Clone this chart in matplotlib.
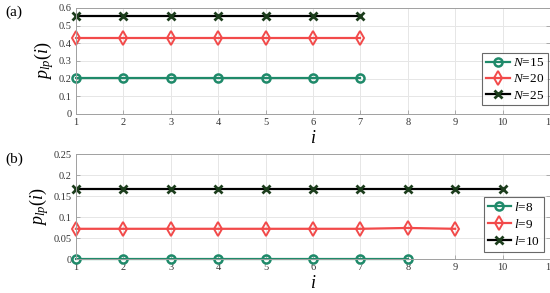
import matplotlib
matplotlib.use("Agg")
import matplotlib.pyplot as plt
import numpy as np

plt.rcParams['font.family'] = ['Liberation Serif', 'DejaVu Serif']
plt.rcParams['mathtext.fontset'] = 'custom'
plt.rcParams['mathtext.rm'] = 'Liberation Serif'
plt.rcParams['mathtext.it'] = 'Liberation Serif:italic'

# Panel (a)
a_labels = ["15", "20", "25"]
a_x = [1, 2, 3, 4, 5, 6, 7]
a_vals = [
    [0.205, 0.205, 0.205, 0.205, 0.205, 0.205, 0.205],
    [0.432, 0.432, 0.432, 0.432, 0.432, 0.432, 0.432],
    [0.556, 0.556, 0.556, 0.556, 0.556, 0.556, 0.556],
]
# Panel (b)
b_labels = ["8", "9", "10"]
b_x = [list(range(1, 9)), list(range(1, 10)), list(range(1, 11))]
b_vals = [
    [0, 0, 0, 0, 0, 0, 0, 0],
    [0.072, 0.072, 0.072, 0.072, 0.072, 0.072, 0.072, 0.074, 0.072],
    [0.166, 0.166, 0.166, 0.166, 0.166, 0.166, 0.166, 0.166, 0.166, 0.166],
]
a_yticks = [0, 0.1, 0.2, 0.3, 0.4, 0.5, 0.6]
b_yticks = [0, 0.05, 0.1, 0.15, 0.2, 0.25]
xticks = list(range(1, 12))

green = "#1f8a6a"
red = "#f24a4a"
black = "#000000"
xgreen = "#1c3d1c"
styles = [
    dict(color=green, marker='o', mfc='none', mec=green, ms=5.8, mew=1.8),
    dict(color=red, marker='d', mfc='none', mec=red, ms=7, mew=1.4),
    dict(color=black, marker='x', mec=xgreen, ms=5.5, mew=2.0),
]

fig = plt.figure(figsize=(5.5, 2.93), dpi=100)
ax1 = fig.add_axes([0.138, 0.611, 0.862, 0.362])
ax2 = fig.add_axes([0.138, 0.116, 0.862, 0.358])

def style_ax(ax, yticks, ylim):
    ax.set_xlim(1, 11)
    ax.set_ylim(*ylim)
    ax.set_xticks(xticks)
    ax.set_yticks(yticks)
    ax.set_yticklabels([f"{t:g}" for t in yticks])
    ax.grid(True, color="#e6e6e6", lw=0.7)
    ax.set_axisbelow(True)
    for s in ax.spines.values():
        s.set_color("#a0a0a0")
        s.set_linewidth(0.7)
    ax.tick_params(direction='in', length=3, width=0.6, color="#a0a0a0",
                   labelsize=7.5, labelcolor="#333333", right=True, top=False, pad=3)
    ax.set_xlabel(r"$i$", fontsize=13, labelpad=2)
    ax.set_ylabel(r"$p_{lp}(i)$", fontsize=13, labelpad=2)

for vals, lab, st in zip(a_vals, a_labels, styles):
    ax1.plot(a_x, vals, lw=1.6, label=r"$N$=" + lab, clip_on=False, **st)
for xs, vals, lab, st in zip(b_x, b_vals, b_labels, styles):
    ax2.plot(xs, vals, lw=1.6, label=r"$l$=" + lab, clip_on=False, **st)

style_ax(ax1, a_yticks, (0, 0.6))
style_ax(ax2, b_yticks, (0, 0.25))

for ax, loc in ((ax1, (0.857, 0.08)), (ax2, (0.86, 0.07))):
    leg = ax.legend(loc='lower left', bbox_to_anchor=loc, fontsize=9.5,
                    frameon=True, fancybox=False, handlelength=1.8,
                    handletextpad=0.2, borderpad=0.3, labelspacing=0.3,
                    borderaxespad=0)
    leg.get_frame().set_edgecolor("#444444")
    leg.get_frame().set_linewidth(0.8)

fig.text(0.01, 0.945, "(a)", fontsize=11)
fig.text(0.01, 0.445, "(b)", fontsize=11)

fig.savefig("out.png", dpi=100)
